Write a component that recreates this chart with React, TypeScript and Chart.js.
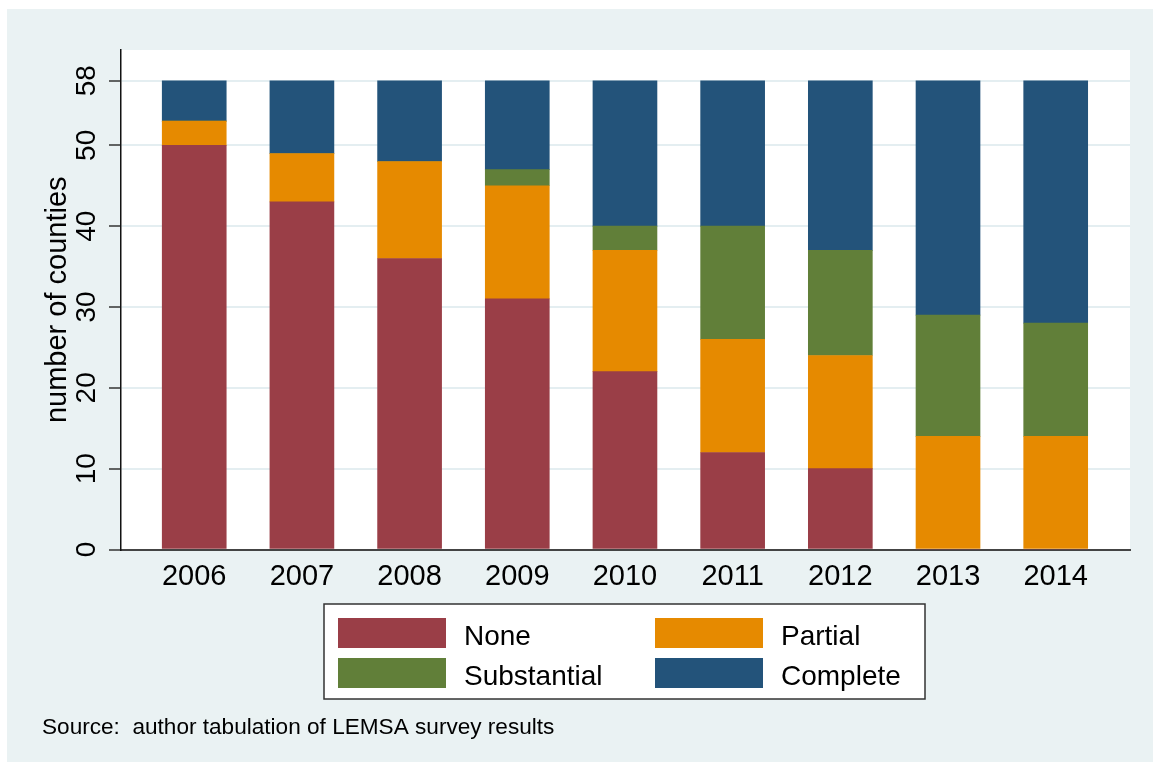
import React, { useEffect, useRef } from "react";
import { Chart, registerables } from "chart.js";

Chart.register(...registerables);

const years = ["2006", "2007", "2008", "2009", "2010", "2011", "2012", "2013", "2014"];
const noneVals = [50, 43, 36, 31, 22, 12, 10, 0, 0];
const partialVals = [3, 6, 12, 14, 15, 14, 14, 14, 14];
const substantialVals = [0, 0, 0, 2, 3, 14, 13, 15, 14];
const completeVals = [5, 9, 10, 11, 18, 18, 21, 29, 30];
const yTicks = [0, 10, 20, 30, 40, 50, 58];
const seriesNames = ["None", "Partial", "Substantial", "Complete"];
const seriesColors = ["#9a3e47", "#e68a00", "#617f39", "#23537a"];
const yTitle = "number of counties";
const sourceNote = "Source:  author tabulation of LEMSA survey results";

const FONT = "'Liberation Sans', Arial, Helvetica, sans-serif";
const BG = "#eaf2f3";

const backgroundPlugin = {
  id: "stataBackground",
  beforeDraw(chart: any) {
    const { ctx, chartArea } = chart;
    ctx.save();
    ctx.fillStyle = "#ffffff";
    ctx.fillRect(0, 0, chart.width, chart.height);
    ctx.fillStyle = BG;
    ctx.fillRect(7, 9, chart.width - 7, chart.height - 9);
    ctx.fillStyle = "#ffffff";
    ctx.fillRect(chartArea.left, chartArea.top, chartArea.right - chartArea.left, chartArea.bottom - chartArea.top);
    ctx.restore();
  },
};

const legendPlugin = {
  id: "stataLegend",
  afterDraw(chart: any) {
    const { ctx } = chart;
    ctx.save();
    ctx.fillStyle = "#ffffff";
    ctx.fillRect(324, 604, 601, 95);
    ctx.strokeStyle = "#333333";
    ctx.lineWidth = 1.5;
    ctx.strokeRect(324, 604, 601, 95);
    const cols = [338, 655];
    const rows = [618, 658];
    chart.data.datasets.forEach((ds: any, i: number) => {
      const cx = cols[i % 2];
      const cy = rows[Math.floor(i / 2)];
      ctx.fillStyle = ds.backgroundColor;
      ctx.fillRect(cx, cy, 108, 30);
      ctx.fillStyle = "#000000";
      ctx.font = `28px ${FONT}`;
      ctx.textAlign = "left";
      ctx.textBaseline = "alphabetic";
      ctx.fillText(ds.label, cx + 126, cy + 27);
    });
    ctx.font = `22.6px ${FONT}`;
    ctx.fillStyle = "#000000";
    ctx.fillText(sourceNote, 42, 734);
    ctx.restore();
  },
};

export default function App() {
  const canvasRef = useRef<HTMLCanvasElement | null>(null);

  useEffect(() => {
    const canvas = canvasRef.current;
    if (!canvas) return;
    const valueSets = [noneVals, partialVals, substantialVals, completeVals];
    const chart = new Chart(canvas, {
      type: "bar",
      data: {
        datasets: valueSets.map((vals, si) => ({
          label: seriesNames[si],
          data: vals.map((v, i) => ({ x: i, y: v })),
          backgroundColor: seriesColors[si],
          borderWidth: 0,
          barThickness: 64,
          grouped: false,
        })),
      },
      options: {
        animation: false,
        responsive: false,
        devicePixelRatio: 1,
        layout: { padding: { left: 0, top: 50, right: 23, bottom: 172.5 } },
        plugins: {
          legend: { display: false },
          tooltip: { enabled: false },
          title: { display: false },
        },
        scales: {
          x: {
            type: "linear",
            offset: false,
            min: -0.68,
            max: 8.69,
            afterBuildTicks: (scale: any) => {
              scale.ticks = years.map((_, i) => ({ value: i }));
            },
            afterFit: (scale: any) => {
              scale.height = 40;
            },
            ticks: {
              autoSkip: false,
              maxRotation: 0,
              minRotation: 0,
              padding: 10,
              color: "#000000",
              font: { family: FONT, size: 29 },
              callback: (v: any) => years[Math.round(Number(v))] ?? "",
            },
            grid: { display: false, drawTicks: false, tickLength: 0 },
            border: { display: true, color: "#444444", width: 2 },
          },
          y: {
            stacked: true,
            min: 0,
            max: 61.8,
            afterBuildTicks: (scale: any) => {
              scale.ticks = yTicks.map((v) => ({ value: v }));
            },
            afterFit: (scale: any) => {
              scale.width = 121;
            },
            ticks: {
              autoSkip: false,
              minRotation: 90,
              maxRotation: 90,
              crossAlign: "center",
              padding: 6,
              color: "#000000",
              font: { family: FONT, size: 28 },
            },
            grid: {
              color: "#e4eef1",
              lineWidth: 2,
              drawTicks: true,
              tickLength: 12,
              tickColor: "#333333",
              tickWidth: 1.5,
            },
            border: { display: true, color: "#111111", width: 1.5 },
            title: {
              display: true,
              text: yTitle,
              color: "#000000",
              font: { family: FONT, size: 29 },
              padding: { top: 41, bottom: 0 },
            },
          },
        },
      },
      plugins: [backgroundPlugin, legendPlugin],
    } as any);
    return () => chart.destroy();
  }, []);

  return (
    <div style={{ position: "fixed", left: 0, top: 0, width: 1153, height: 762 }}>
      <canvas ref={canvasRef} width={1153} height={762} style={{ width: 1153, height: 762 }} />
    </div>
  );
}
